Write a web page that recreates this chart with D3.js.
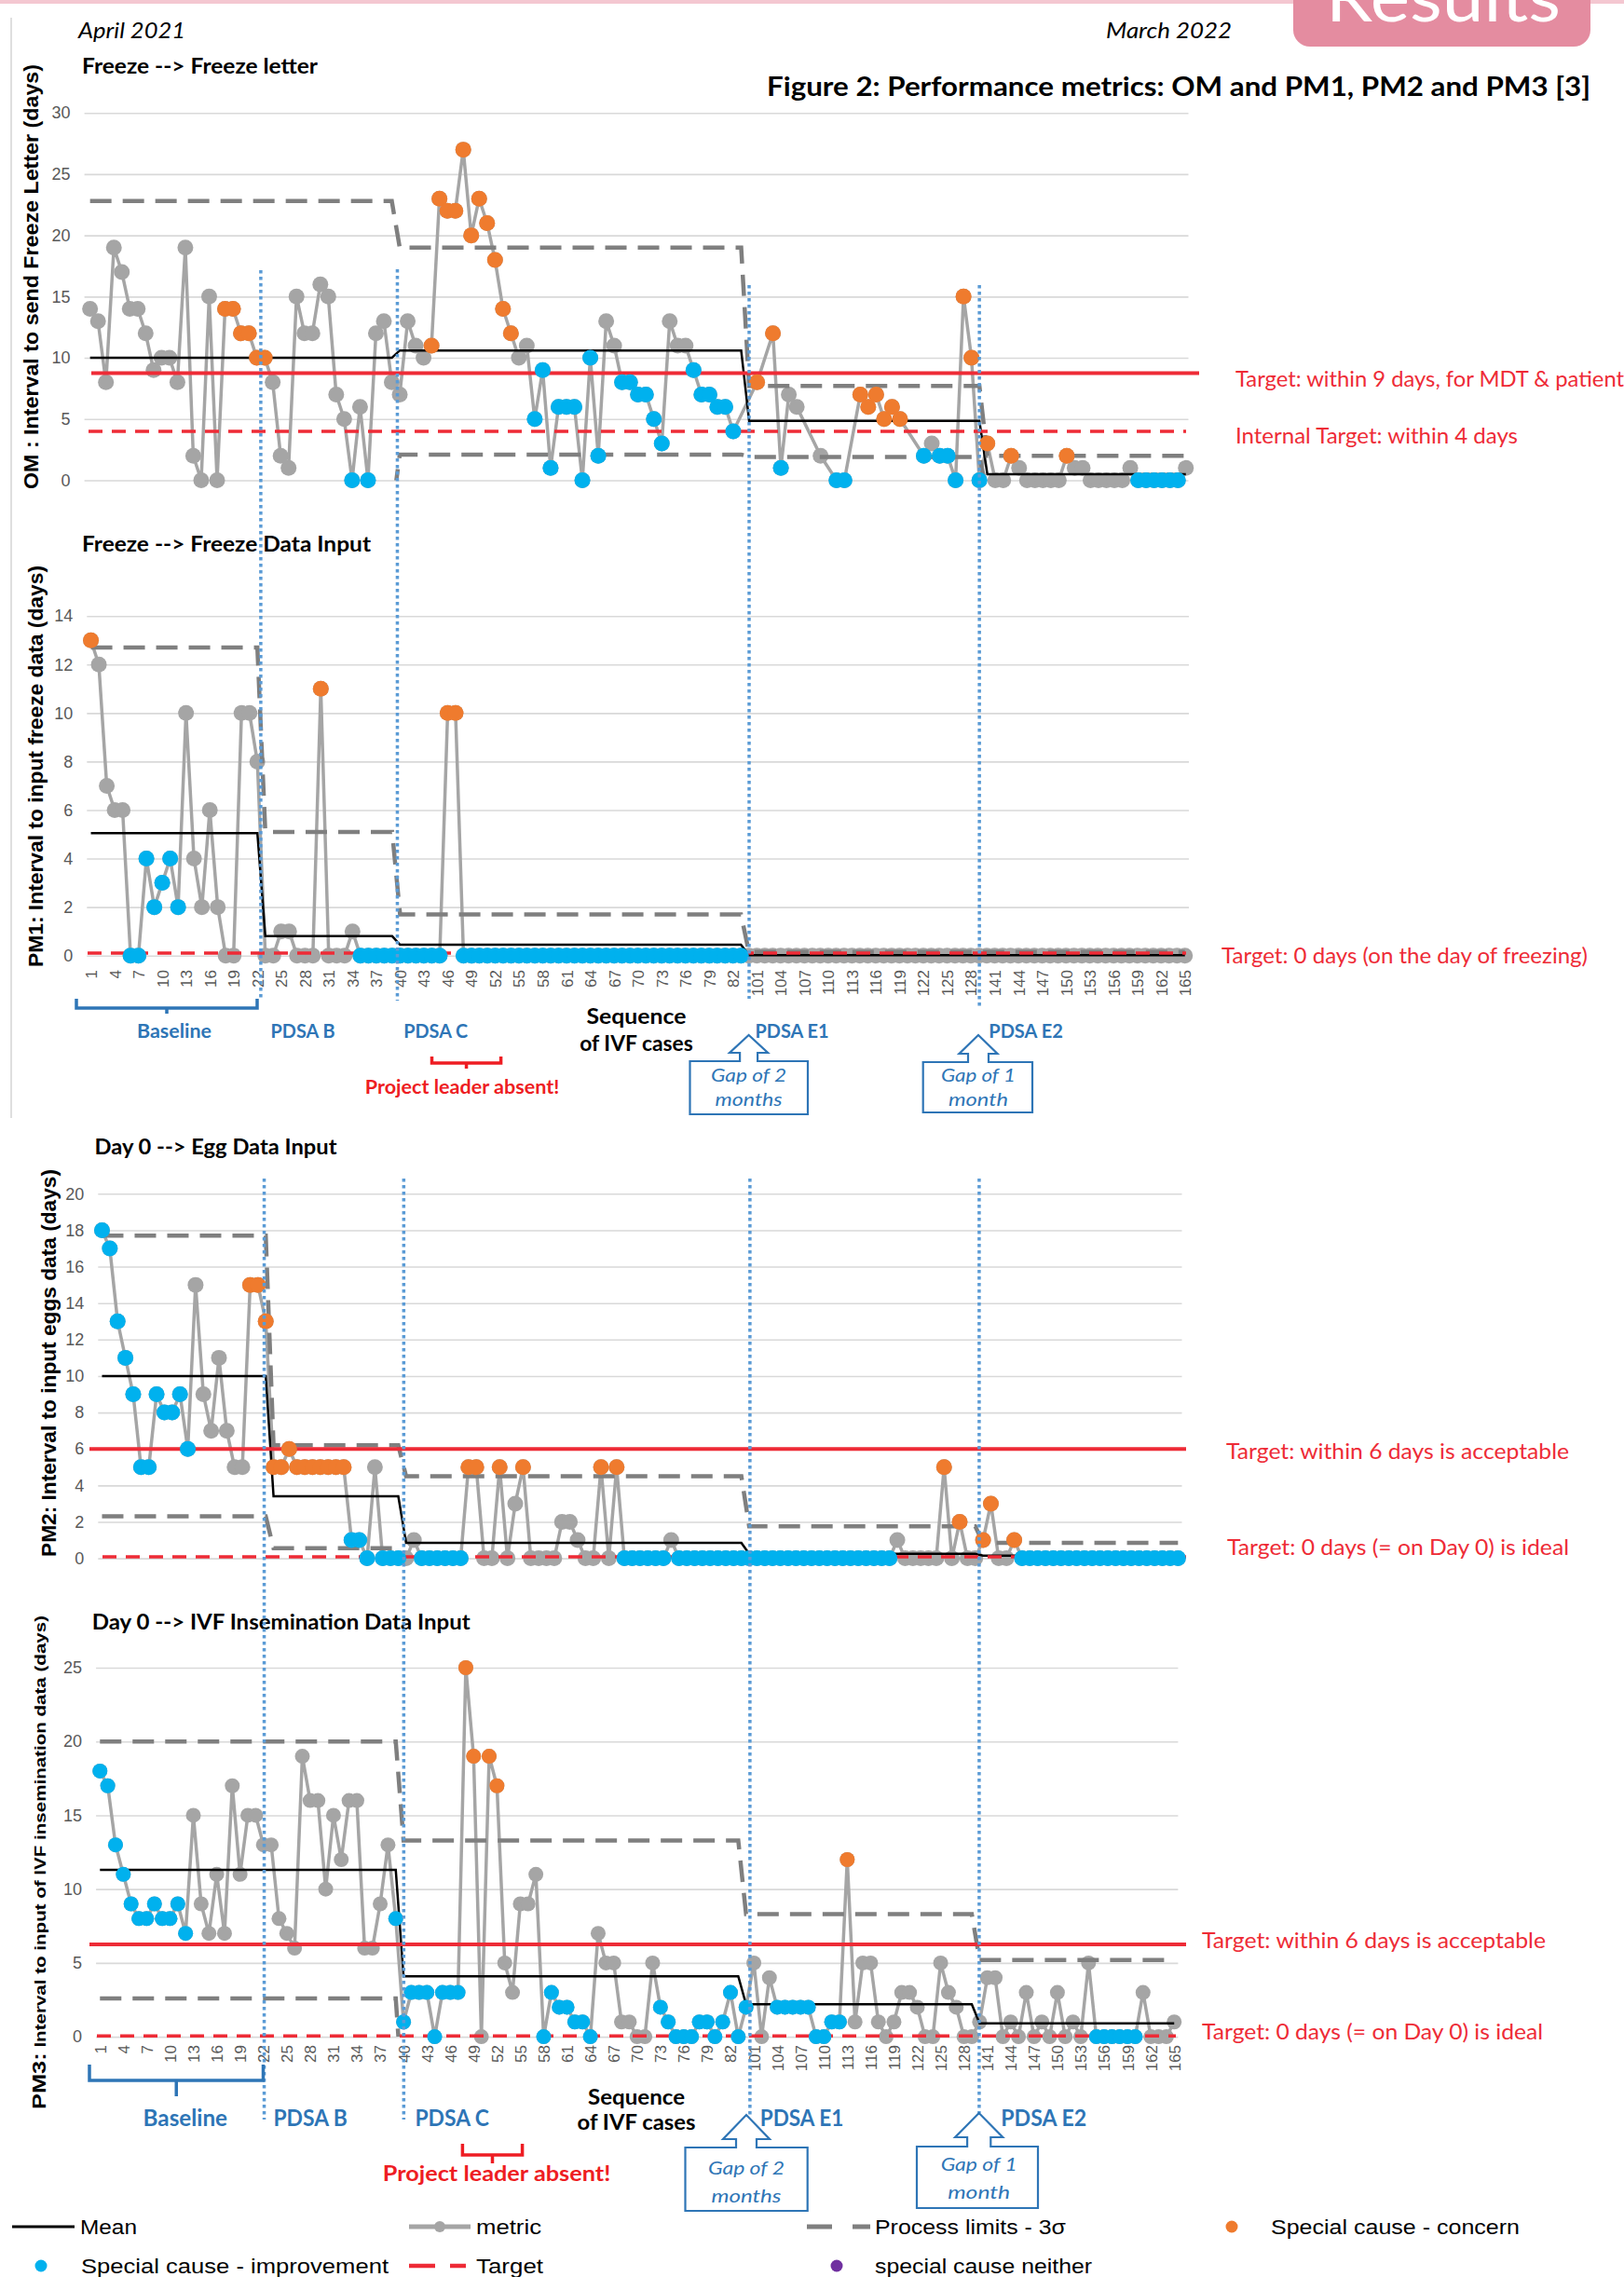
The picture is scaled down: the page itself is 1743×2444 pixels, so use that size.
<!DOCTYPE html>
<html>
<head>
<meta charset="utf-8">
<title>Figure 2: Performance metrics</title>
<script src="https://cdn.jsdelivr.net/npm/d3@7"></script>
<style>
  body { margin: 0; background: #fff; }
  svg { display: block; }
</style>
</head>
<body>
<svg id="chart" width="1743" height="2444"></svg>
<script>
// category axis: IVF case numbers (cases 85-100 and 131-140 fall in the two gaps)
const caseNumbers = [...d3.range(1, 85), ...d3.range(101, 131), ...d3.range(141, 166)];

// OM : days from freeze to freeze letter (null = no letter for that case)
const omValues = [
  14,13,8,19,17,14,14,12,9,10, 10,8,19,2,0,15,0,14,14,12, 12,10,10,8,2,1,15,12,12,16, 15,7,5,0,6,0,12,13,8,7,
  13,11,10,11,23,22,22,27,20,23, 21,18,14,12,10,11,5,9,1,6, 6,6,0,10,2,13,11,8,8,7, 7,5,3,13,11,11,9,7,7,6,
  6,4,null,null,8,null,12,1,7,6, null,null,2,null,0,0,null,7,6,7, 5,6,5,null,null,2,3,2,2,0, 15,10,0,3,0,0,2,1,0,0,
  0,0,0,2,1,1,0,0,0,0, 0,1,0,0,0,0,0,0,1
];
const omConcern = [17,18,19,20,21,22,43,44,45,46,47,48,49,50,51,52,53,84,86,97,98,99,100,101,102,110,111,113,116,123];
const omImprove = [33,35,56,57,58,59,60,61,62,63,64,67,68,69,70,71,72,76,77,78,79,80,81,87,94,95,105,107,108,109,112,132,133,134,135,136,137];
const omSegments = [[0,38],[39,82],[83,112],[113,138]];
const omMean = [10, 10.6, 4.85, 0.5];
const omUcl = [22.8, 19, 7.7, 2.0];
const omLcl = [-2.8, 2.1, 1.9, -1.0];
const omTargets = [8.75, 4];
const omTargetLabels = ["Target: within 9 days, for MDT & patient", "Internal Target: within 4 days"];

// PM1 : days from freeze to freeze data input
const pm1Values = [
  13,12,7,6,6,0,0,4,2,3, 4,2,10,4,2,6,2,0,0,10, 10,8,0,0,1,1,0,0,0,11, 0,0,0,1,0,0,0,0,0,0,
  0,0,0,0,0,10,10,0,0,0, 0,0,0,0,0,0,0,0,0,0, 0,0,0,0,0,0,0,0,0,0, 0,0,0,0,0,0,0,0,0,0,
  0,0,0,0,0,0,0,0,0,0, 0,0,0,0,0,0,0,0,0,0, 0,0,0,0,0,0,0,0,0,0, 0,0,0,0,0,0,0,0,0,0,
  0,0,0,0,0,0,0,0,0,0, 0,0,0,0,0,0,0,0,0
];
const pm1Concern = [0,29,45,46];
const pm1Improve = [...d3.range(5, 12), ...d3.range(34, 45), ...d3.range(47, 83)];
const pm1Segments = [[0,21],[22,38],[39,82],[83,138]];
const pm1Mean = [5.05, 0.8, 0.45, 0.02];
const pm1Ucl = [12.7, 5.1, 1.7, 0.15];
const pm1Lcl = [-2.6, -3.5, -0.8, -0.1];
const pm1Targets = [0.1];
const pm1TargetLabels = ["Target: 0 days (on the day of freezing)"];

// PM2 : days from Day 0 to egg data input
const pm2Values = [
  18,17,13,11,9,5,5,9,8,8, 9,6,15,9,7,11,7,5,5,15, 15,13,5,5,6,5,5,5,5,5, 5,5,1,1,0,5,0,0,0,0,
  1,0,0,0,0,0,0,5,5,0, 0,5,0,3,5,0,0,0,0,2, 2,1,0,0,5,0,5,0,0,0, 0,0,0,1,0,0,0,0,0,0,
  0,0,0,0,0,0,0,0,0,0, 0,0,0,0,0,0,0,0,0,0, 0,0,1,0,0,0,0,0,5,0, 2,0,0,1,3,0,0,1,0,0,
  0,0,0,0,0,0,0,0,0,0, 0,0,0,0,0,0,0,0,0
];
const pm2Concern = [...d3.range(19, 32), 47,48,51,54,64,66,108,110,113,114,117];
const pm2Improve = [...d3.range(0, 12), 32,33,34,36,37,38, ...d3.range(41, 47), ...d3.range(67, 73), ...d3.range(74, 102), ...d3.range(118, 139)];
const pm2Segments = [[0,21],[22,38],[39,82],[83,112],[113,138]];
const pm2Mean = [10, 3.4, 0.85, 0.25, 0.15];
const pm2Ucl = [17.7, 6.2, 4.5, 1.75, 0.85];
const pm2Lcl = [2.3, 0.55, -2.8, -1.25, -0.55];
const pm2Targets = [6, 0.08];
const pm2TargetLabels = ["Target: within 6 days is acceptable", "Target: 0 days (= on Day 0) is ideal"];

// PM3 : days from Day 0 to IVF insemination data input
const pm3Values = [
  18,17,13,11,9,8,8,9,8,8, 9,7,15,9,7,11,7,17,11,15, 15,13,13,8,7,6,19,16,16,10, 15,12,16,16,6,6,9,13,8,1,
  3,3,3,0,3,3,3,25,19,0, 19,17,5,3,9,9,11,0,3,2, 2,1,1,0,7,5,5,1,1,0, 0,5,2,1,0,0,0,1,1,0,
  1,3,0,2,5,0,4,2,2,2, 2,2,0,0,1,1,12,1,5,5, 1,0,1,3,3,2,0,0,5,3, 2,0,0,1,4,4,0,1,0,3,
  0,1,0,3,0,1,0,5,0,0, 0,0,0,0,3,0,0,0,1
];
const pm3Concern = [47,48,50,51,96];
const pm3Improve = [...d3.range(0, 12), ...d3.range(38, 47), ...d3.range(57, 64), ...d3.range(72, 84), ...d3.range(87, 96), ...d3.range(128, 134)];
const pm3Segments = [[0,38],[39,82],[83,112],[113,138]];
const pm3Mean = [11.3, 4.1, 2.2, 0.9];
const pm3Ucl = [20, 13.3, 8.3, 5.2];
const pm3Lcl = [2.6, -5.1, -3.9, -3.4];
const pm3Targets = [6.25, 0.05];
const pm3TargetLabels = ["Target: within 6 days is acceptable", "Target: 0 days (= on Day 0) is ideal"];

// phase boundaries, as fractional case positions
const upperBreaks = [21.5, 38.7, 83.0, 112.0];
const lowerBreaks = [20.8, 38.7, 83.1, 112.5];
const phaseNames = ["Baseline", "PDSA B", "PDSA C", "PDSA E1", "PDSA E2"];

const legendItems = ["Mean", "metric", "Process limits - 3\u03c3", "Special cause - concern",
                     "Special cause  - improvement", "Target", "special cause neither"];

const C = {
  grid: "#d9d9d9", metric: "#a5a5a5", concern: "#ef7b2e", improve: "#00b1ee", neither: "#7030a0",
  mean: "#000000", limit: "#7f7f7f", target: "#ee2b36", phase: "#5b9bd5", blue: "#2e75b6", tick: "#595959"
};
const ARIAL = '"Liberation Sans", Arial, sans-serif';
const CALI = 'Lato, "Open Sans", sans-serif';

const svg = d3.select("#chart");
const defs = svg.append("defs");

function label(parent, txt, o) {
  const t = parent.append("text").text(txt)
    .attr("x", o.x).attr("y", o.y)
    .attr("font-family", o.font || CALI)
    .attr("font-size", o.size)
    .attr("font-weight", o.bold ? 700 : 400)
    .attr("fill", o.fill || "#000")
    .attr("text-anchor", o.anchor || "start");
  if (o.italic) t.attr("font-style", "italic");
  if (o.dy) t.attr("dy", o.dy);
  if (o.len) t.attr("textLength", o.len).attr("lengthAdjust", "spacingAndGlyphs");
  return t;
}

const panels = [
  { id: "om", values: omValues, concern: omConcern, improve: omImprove,
    segs: omSegments, mean: omMean, ucl: omUcl, lcl: omLcl,
    targets: omTargets, targetDashed: [false, true], targetLabels: omTargetLabels,
    targetX: [[98, 1287], [95, 1273]], labelPos: [[1326, 407, 417], [1326, 468, 303]],
    xRange: [92.4, 1277], grid: [90.6, 1275.5], yDomain: [0, 30], yRange: [515.5, 121.2], tickStep: 5, r: 8.5,
    title: "Freeze --> Freeze letter", titlePos: [88, 79, 253],
    yTitle: ["OM : Interval to send Freeze Letter (days)"], yTitlePos: [35.5, 297, 456], yTitleSize: [22],
    caseLabelTop: null },
  { id: "pm1", values: pm1Values, concern: pm1Concern, improve: pm1Improve,
    segs: pm1Segments, mean: pm1Mean, ucl: pm1Ucl, lcl: pm1Lcl,
    targets: pm1Targets, targetDashed: [true], targetLabels: pm1TargetLabels,
    targetX: [[94, 1273]], labelPos: [[1311, 1026, 393]],
    xRange: [93.3, 1276], grid: [93.3, 1276], yDomain: [0, 14], yRange: [1025.7, 661.2], tickStep: 2, r: 8.5,
    title: "Freeze --> Freeze Data Input", titlePos: [88, 592, 310],
    yTitle: ["PM1: Interval to input freeze data (days)"], yTitlePos: [40, 822.5, 431], yTitleSize: [22],
    caseLabelTop: 1041 },
  { id: "pm2", values: pm2Values, concern: pm2Concern, improve: pm2Improve,
    segs: pm2Segments, mean: pm2Mean, ucl: pm2Ucl, lcl: pm2Lcl,
    targets: pm2Targets, targetDashed: [false, true], targetLabels: pm2TargetLabels,
    targetX: [[96, 1273], [110, 1273]], labelPos: [[1316, 1558, 368], [1317, 1661, 367]],
    xRange: [105.3, 1268.5], grid: [105.3, 1268.5], yDomain: [0, 20], yRange: [1672.6, 1281.3], tickStep: 2, r: 8.5,
    title: "Day 0 --> Egg Data Input", titlePos: [101.5, 1239, 260],
    yTitle: ["PM2: Interval to input eggs data (days)"], yTitlePos: [54, 1463, 416], yTitleSize: [22],
    caseLabelTop: null },
  { id: "pm3", values: pm3Values, concern: pm3Concern, improve: pm3Improve,
    segs: pm3Segments, mean: pm3Mean, ucl: pm3Ucl, lcl: pm3Lcl,
    targets: pm3Targets, targetDashed: [false, true], targetLabels: pm3TargetLabels,
    targetX: [[96, 1273], [104, 1262]], labelPos: [[1290, 2083, 369], [1290, 2181, 366]],
    xRange: [103.1, 1264.4], grid: [103.1, 1264.4], yDomain: [0, 25], yRange: [2186.1, 1790], tickStep: 5, r: 8,
    title: "Day 0 --> IVF Insemination Data Input", titlePos: [98.7, 1748.7, 406],
    yTitle: ["PM3:", " Interval to input of IVF insemination data (days)"], yTitlePos: [43, 1999, 530], yTitleSize: [21, 17],
    caseLabelTop: 2195 }
];

function drawPanel(p) {
  const g = svg.append("g").attr("class", "panel-" + p.id);
  const x = d3.scalePoint().domain(d3.range(caseNumbers.length)).range(p.xRange).padding(0.5);
  const y = d3.scaleLinear().domain(p.yDomain).range(p.yRange);
  p.x = x;

  // gridlines and value labels
  const ya = g.append("g").attr("transform", `translate(${p.grid[0]},0)`)
    .call(d3.axisLeft(y)
      .tickValues(d3.range(p.yDomain[0], p.yDomain[1] + 0.01, p.tickStep))
      .tickSize(-(p.grid[1] - p.grid[0]))
      .tickPadding(15));
  ya.attr("font-size", 18).attr("font-family", ARIAL);
  ya.select(".domain").remove();
  ya.selectAll("line").attr("stroke", C.grid).attr("stroke-width", 1.6);
  ya.selectAll("text").attr("fill", C.tick);

  // case numbers, every third case, rotated
  if (p.caseLabelTop) {
    const xa = g.append("g").attr("transform", `translate(0,${y(0)})`)
      .call(d3.axisBottom(x)
        .tickValues(x.domain().filter(i => i % 3 === 0))
        .tickFormat(i => caseNumbers[i])
        .tickSize(0));
    xa.attr("font-size", 17).attr("font-family", ARIAL);
    xa.select(".domain").remove();
    xa.selectAll("text").attr("fill", C.tick)
      .attr("transform", "rotate(-90)")
      .attr("text-anchor", "end")
      .attr("x", -(p.caseLabelTop - y(0)))
      .attr("y", 0)
      .attr("dy", "0.35em");
  }

  const pts = p.values.map((v, i) => ({ i, v })).filter(d => d.v !== null);
  const line = d3.line().x(d => x(d.i)).y(d => y(d.v));

  // metric line + markers
  g.append("path").datum(pts).attr("d", line)
    .attr("fill", "none").attr("stroke", C.metric).attr("stroke-width", 3.5).attr("stroke-linejoin", "round");
  g.append("g").selectAll("circle").data(pts).join("circle")
    .attr("cx", d => x(d.i)).attr("cy", d => y(d.v)).attr("r", p.r).attr("fill", C.metric);

  // mean and 3-sigma limits, one value per case from the phase segments
  const bySeg = arr => x.domain().map(i => ({ i, v: arr[p.segs.findIndex(s => i >= s[0] && i <= s[1])] }));
  const clipId = "clip-" + p.id;
  defs.append("clipPath").attr("id", clipId).append("rect")
    .attr("x", 0).attr("y", y(p.yDomain[1]) - 10).attr("width", 1743).attr("height", y(0) - y(p.yDomain[1]) + 10);
  g.append("path").datum(bySeg(p.mean)).attr("d", line)
    .attr("fill", "none").attr("stroke", C.mean).attr("stroke-width", 2.5);
  [p.ucl, p.lcl].forEach(lim => {
    g.append("path").datum(bySeg(lim)).attr("d", line).attr("clip-path", `url(#${clipId})`)
      .attr("fill", "none").attr("stroke", C.limit).attr("stroke-width", 4.5).attr("stroke-dasharray", "23 12");
  });

  // targets
  p.targets.forEach((t, k) => {
    g.append("line")
      .attr("x1", p.targetX[k][0]).attr("x2", p.targetX[k][1]).attr("y1", y(t)).attr("y2", y(t))
      .attr("stroke", C.target).attr("stroke-width", p.targetDashed[k] ? 3.5 : 4)
      .attr("stroke-dasharray", p.targetDashed[k] ? "15 10" : null);
    const lp = p.labelPos[k];
    label(g, p.targetLabels[k], { x: lp[0], y: lp[1], size: 23, fill: C.target, dy: "0.35em", len: lp[2] });
  });

  // special cause markers
  const special = pts.filter(d => p.concern.includes(d.i) || p.improve.includes(d.i));
  g.append("g").selectAll("circle").data(special).join("circle")
    .attr("cx", d => x(d.i)).attr("cy", d => y(d.v)).attr("r", p.r)
    .attr("fill", d => p.concern.includes(d.i) ? C.concern : C.improve);

  // titles
  label(g, p.title, { x: p.titlePos[0], y: p.titlePos[1], size: 22, bold: true, len: p.titlePos[2] });
  const yt = svg.append("text")
    .attr("transform", `translate(${p.yTitlePos[0]},${p.yTitlePos[1]}) rotate(-90)`)
    .attr("text-anchor", "middle").attr("dy", "0.35em")
    .attr("font-family", ARIAL).attr("font-weight", 700)
    .attr("textLength", p.yTitlePos[2]).attr("lengthAdjust", "spacingAndGlyphs");
  p.yTitle.forEach((s, k) => yt.append("tspan").attr("font-size", p.yTitleSize[k]).text(s));
}

panels.forEach(drawPanel);

// phase separators (dotted blue), shared by the stacked panels
function phaseLines(p, breaks, spans) {
  const x = p.x;
  svg.append("g").selectAll("line").data(breaks).join("line")
    .attr("x1", b => x(0) + b * x.step()).attr("x2", b => x(0) + b * x.step())
    .attr("y1", (b, k) => spans[k][0]).attr("y2", (b, k) => spans[k][1])
    .attr("stroke", C.phase).attr("stroke-width", 3.5).attr("stroke-dasharray", "3.5 3.5");
}
phaseLines(panels[0], upperBreaks, [[290, 1071], [289, 1074], [306, 1072], [306, 1083]]);
phaseLines(panels[2], lowerBreaks, [[1265, 2275], [1265, 2275], [1265, 2270], [1265, 2268]]);

// annotations under PM1 and PM3
function annotate(a) {
  const g = svg.append("g");
  const bb = a.bracket;
  g.append("path")
    .attr("d", `M${bb[0]},${bb[2]}V${bb[3]}H${bb[1]}V${bb[2]}M${(bb[0] + bb[1]) / 2},${bb[3]}V${bb[4]}`)
    .attr("fill", "none").attr("stroke", C.blue).attr("stroke-width", 3.5);
  phaseNames.forEach((n, k) => label(g, n, { x: a.phase[k][0], y: a.phaseY, size: a.phaseSize, bold: true,
    fill: C.blue, anchor: "middle", dy: "0.35em", len: a.phase[k][1] }));
  label(g, "Sequence", { x: a.seq[0], y: a.seq[1], size: 23, bold: true, anchor: "middle", dy: "0.35em", len: a.seq[3] });
  label(g, "of IVF cases", { x: a.seq[0], y: a.seq[2], size: 23, bold: true, anchor: "middle", dy: "0.35em", len: a.seq[4] });

  const rb = a.absent;
  g.append("path")
    .attr("d", `M${rb[0]},${rb[2]}V${rb[3]}H${rb[1]}V${rb[2]}M${(rb[0] + rb[1]) / 2},${rb[3]}V${rb[4]}`)
    .attr("fill", "none").attr("stroke", "#ee1d23").attr("stroke-width", 3.5);
  label(g, "Project leader absent!", { x: rb[5], y: rb[6], size: a.absentSize, bold: true, fill: "#ee1d23",
    anchor: "middle", dy: "0.35em", len: rb[7] });

  a.gaps.forEach(c => {
    const [x0, x1, yb, yB, tx, ty, hy, hh, sh] = c.shape;
    g.append("path")
      .attr("d", `M${x0},${yb}H${tx - sh}V${hy}H${tx - hh}L${tx},${ty}L${tx + hh},${hy}H${tx + sh}V${yb}H${x1}V${yB}H${x0}Z`)
      .attr("fill", "#fff").attr("stroke", C.blue).attr("stroke-width", 2.2);
    c.lines.forEach((s, k) => label(g, s, { x: tx, y: c.ty[k], size: 20, italic: true, fill: C.blue,
      anchor: "middle", dy: "0.35em", len: c.tl[k] }));
  });
}

annotate({
  bracket: [82, 276, 1072, 1082, 1088],
  phase: [[187, 80], [325, 69], [467.7, 69], [850, 79], [1101, 79.5]], phaseY: 1107, phaseSize: 21,
  seq: [683, 1091, 1120, 107, 121.5],
  absent: [463.5, 537.6, 1134, 1141, 1147, 496, 1166.5, 208.5], absentSize: 21,
  gaps: [
    { shape: [740.5, 867, 1139, 1196, 803.6, 1111, 1130, 20.5, 9.5], lines: ["Gap of 2", "months"], ty: [1154, 1180], tl: [81, 72] },
    { shape: [990.7, 1108, 1140, 1194, 1050, 1111, 1131, 20.5, 11], lines: ["Gap of 1", "month"], ty: [1154, 1180], tl: [80, 64] }
  ]
});
annotate({
  bracket: [96, 282.5, 2216, 2233, 2250],
  phase: [[198.8, 90.5], [333.2, 79.5], [485.2, 79.6], [860.5, 89.6], [1120.2, 91.8]], phaseY: 2274, phaseSize: 24,
  seq: [683, 2251, 2278, 104, 127],
  absent: [496.4, 560.6, 2301, 2313, 2322, 533, 2333, 244.5], absentSize: 23,
  gaps: [
    { shape: [735.5, 866.7, 2305, 2373, 801, 2270, 2296, 25, 11], lines: ["Gap of 2", "months"], ty: [2327, 2357], tl: [82, 75] },
    { shape: [984, 1114, 2304, 2370, 1050.7, 2268, 2294, 25.6, 12.6], lines: ["Gap of 1", "month"], ty: [2323, 2353], tl: [82, 67] }
  ]
});

// header
svg.append("rect").attr("x", 0).attr("y", 0).attr("width", 1743).attr("height", 4).attr("fill", "#f4c7d1");
svg.append("rect").attr("x", 1388).attr("y", -30).attr("width", 319).attr("height", 80).attr("rx", 18).attr("fill", "#e48ca0");
label(svg, "Results", { x: 1549, y: 23, size: 74, fill: "#fff", anchor: "middle", len: 252 });
svg.append("line").attr("x1", 12).attr("x2", 12).attr("y1", 19).attr("y2", 1200).attr("stroke", "#d4d4d4").attr("stroke-width", 1.5);
label(svg, "April 2021", { x: 84, y: 41, size: 24, italic: true, len: 115 });
label(svg, "March 2022", { x: 1187, y: 41, size: 24, italic: true, len: 135 });
label(svg, "Figure 2: Performance metrics: OM and PM1, PM2 and PM3 [3]", { x: 823, y: 103, size: 29, bold: true, len: 884 });

// legend
const lg = svg.append("g");
const row1 = 2390, row2 = 2432;
lg.append("line").attr("x1", 13).attr("x2", 80).attr("y1", row1).attr("y2", row1).attr("stroke", C.mean).attr("stroke-width", 3);
lg.append("line").attr("x1", 439).attr("x2", 505).attr("y1", row1).attr("y2", row1).attr("stroke", C.metric).attr("stroke-width", 5);
lg.append("circle").attr("cx", 472).attr("cy", row1).attr("r", 6).attr("fill", C.metric);
lg.append("line").attr("x1", 866).attr("x2", 934).attr("y1", row1).attr("y2", row1).attr("stroke", C.limit)
  .attr("stroke-width", 5).attr("stroke-dasharray", "27 22");
lg.append("circle").attr("cx", 1322).attr("cy", row1).attr("r", 6.5).attr("fill", C.concern);
lg.append("circle").attr("cx", 44).attr("cy", row2).attr("r", 6.5).attr("fill", C.improve);
lg.append("line").attr("x1", 439).attr("x2", 500).attr("y1", row2).attr("y2", row2).attr("stroke", C.target)
  .attr("stroke-width", 4.5).attr("stroke-dasharray", "28 16");
lg.append("circle").attr("cx", 898).attr("cy", row2).attr("r", 6.5).attr("fill", C.neither);
const legendPos = [[86, row1, 61], [511, row1, 70], [939, row1, 205], [1364, row1, 267],
                   [87, row2, 330], [511, row2, 72], [939, row2, 233]];
legendItems.forEach((s, k) => label(lg, s, { x: legendPos[k][0], y: legendPos[k][1], size: 22, font: ARIAL,
  dy: "0.35em", len: legendPos[k][2] }));
</script>
</body>
</html>
